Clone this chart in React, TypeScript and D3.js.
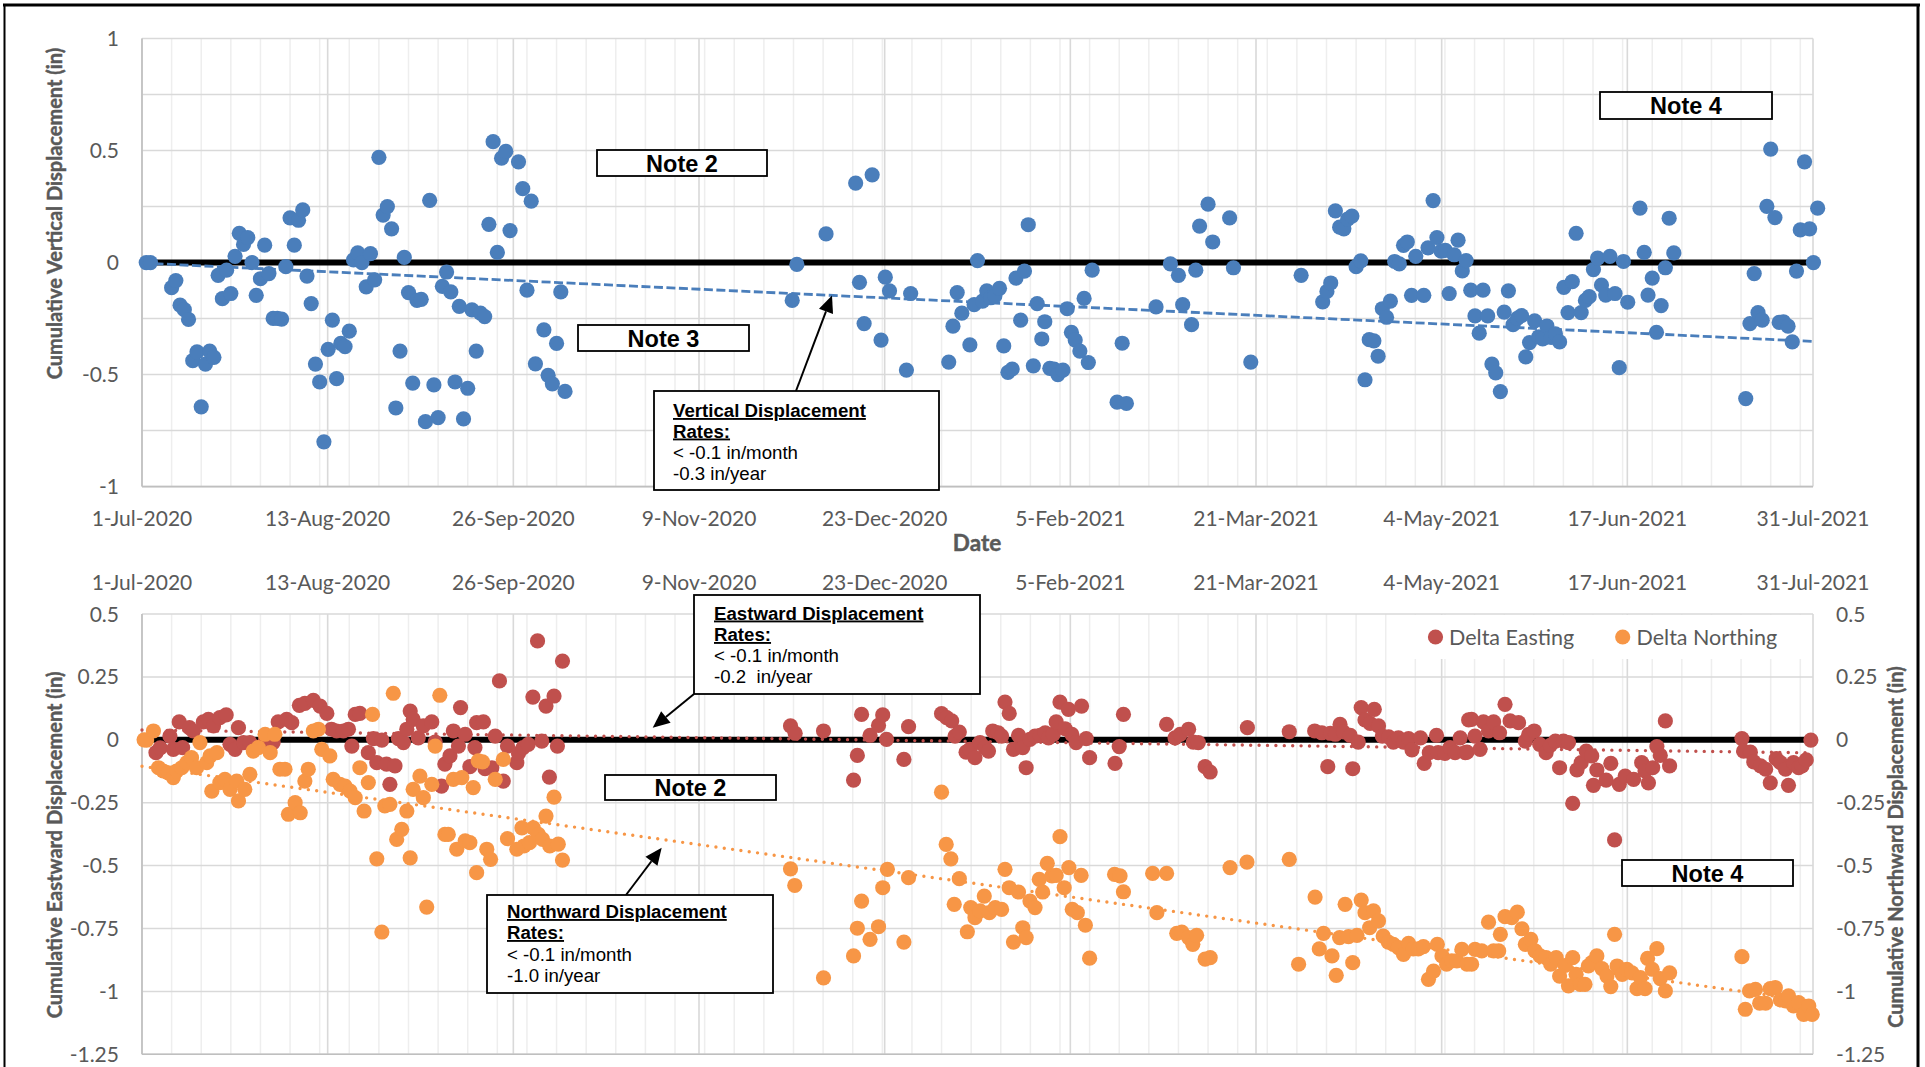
import React from 'react';
import * as d3 from 'd3';

// ---------- axis definitions ----------
const AXIS_MAX_DAY = 395; // 1-Jul-2020 .. 31-Jul-2021
const xTickLabels = ['1-Jul-2020', '13-Aug-2020', '26-Sep-2020', '9-Nov-2020', '23-Dec-2020', '5-Feb-2021', '21-Mar-2021', '4-May-2021', '17-Jun-2021', '31-Jul-2021'];
const topYTicks = [1, 0.5, 0, -0.5, -1];
const topYTickLabels = ['1', '0.5', '0', '-0.5', '-1'];
const bottomYTicks = [0.5, 0.25, 0, -0.25, -0.5, -0.75, -1, -1.25];
const bottomYTickLabels = ['0.5', '0.25', '0', '-0.25', '-0.5', '-0.75', '-1', '-1.25'];

// ---------- data: [days since 1-Jul-2020, inches] ----------
const verticalSeries: [number, number][] = [
  [1, 0], [2, 0], [7, -0.112], [8, -0.08], [9, -0.19], [10, -0.21], [11, -0.254], [12, -0.438], [13, -0.398], [14, -0.644], [15, -0.453], [16, -0.395], [17, -0.423], [18, -0.057], [19, -0.161], [20, -0.034], [21, -0.138], [22, 0.028], [23, 0.131], [24, 0.081], [25, 0.112], [26, 0], [27, -0.146], [28, -0.072], [29, 0.078], [30, -0.049], [31, -0.249], [32, -0.249], [33, -0.252], [34, -0.018], [35, 0.2], [36, 0.078], [37, 0.189], [38, 0.235], [39, -0.06], [40, -0.183], [41, -0.453], [42, -0.533], [43, -0.8], [44, -0.387], [45, -0.257], [46, -0.518], [47, -0.361], [48, -0.375], [49, -0.306], [50, 0.012], [51, 0.043], [52, 0], [53, -0.108], [54, 0.04], [55, -0.077], [56, 0.47], [57, 0.212], [58, 0.25], [59, 0.151], [60, -0.649], [61, -0.395], [62, 0.023], [63, -0.134], [64, -0.538], [65, -0.169], [66, -0.164], [67, -0.71], [68, 0.278], [69, -0.546], [70, -0.692], [71, -0.106], [72, -0.042], [73, -0.131], [74, -0.533], [75, -0.195], [76, -0.698], [77, -0.561], [78, -0.211], [79, -0.395], [80, -0.226], [81, -0.241], [82, 0.171], [83, 0.54], [84, 0.046], [85, 0.466], [86, 0.497], [87, 0.143], [89, 0.45], [90, 0.33], [91, -0.123], [92, 0.274], [93, -0.452], [95, -0.3], [96, -0.503], [97, -0.541], [98, -0.361], [99, -0.131], [100, -0.575],
  [153.7, -0.169], [154.8, -0.008], [161.7, 0.128], [168.7, 0.355], [169.6, -0.088], [170.7, -0.272], [172.6, 0.392], [174.7, -0.346], [175.7, -0.065], [176.7, -0.126], [180.7, -0.48], [181.7, -0.138], [190.7, -0.444], [191.7, -0.284], [192.7, -0.134], [193.8, -0.226], [195.7, -0.367], [196.7, -0.188], [197.5, 0.009], [198.7, -0.172], [199.7, -0.126], [200.6, -0.157], [201.6, -0.149], [202.7, -0.115], [203.7, -0.372], [204.7, -0.49], [205.7, -0.475], [206.6, -0.069], [207.7, -0.257], [208.6, -0.038], [209.5, 0.169], [210.7, -0.461], [211.6, -0.183], [212.7, -0.341], [213.4, -0.264], [214.6, -0.472], [215.6, -0.475], [216.5, -0.5], [217.7, -0.48], [218.7, -0.206], [219.7, -0.311], [220.6, -0.346], [221.7, -0.395], [222.7, -0.16], [223.7, -0.446], [224.6, -0.034], [230.5, -0.623], [231.7, -0.36], [232.7, -0.629], [239.7, -0.198], [243.1, -0.006], [245, -0.057], [246, -0.188], [248.1, -0.277], [249.1, -0.034], [250, 0.163], [252, 0.261], [253.1, 0.092], [257.1, 0.2], [258, -0.023], [262.1, -0.444],
  [274, -0.057], [279.1, -0.175], [280.1, -0.129], [281, -0.091], [282.1, 0.231], [283.1, 0.158], [284.1, 0.151], [285, 0.194], [286, 0.208], [287, -0.018], [288.1, 0.008], [289.1, -0.523], [290.1, -0.344], [291.2, -0.349], [292.2, -0.418], [293.2, -0.206], [294.2, -0.244], [295.1, -0.172], [296.1, 0.005], [297.2, -0.006], [298.2, 0.077], [299.1, 0.092], [300.1, -0.146], [301.1, 0.028], [303, -0.146], [304, 0.066], [305.2, 0.277], [306.1, 0.112], [307.1, 0.051], [308.1, 0.055], [309, -0.138], [310.2, 0.035], [311.1, 0.1], [312.1, -0.037], [313, 0.009], [314.1, -0.123], [315.1, -0.238], [316.1, -0.315], [317, -0.123], [318.1, -0.238], [319.1, -0.453], [320, -0.492], [321.1, -0.576], [322, -0.221], [323, -0.126], [324.1, -0.277], [325.1, -0.249], [326.1, -0.237], [327.1, -0.421], [328, -0.357], [329.2, -0.26], [330.2, -0.331], [331.1, -0.341], [332.1, -0.283], [333.1, -0.334], [334.1, -0.318], [335.1, -0.354], [336.1, -0.111], [337.1, -0.223], [338.1, -0.085], [339, 0.131], [340.2, -0.223], [341.2, -0.169], [342.1, -0.152], [343.1, -0.031], [344.1, 0.02], [345, -0.1], [346, -0.145], [347, 0.028], [348.2, -0.138], [349.2, -0.469], [350.2, 0.005], [351.2, -0.177], [354.1, 0.243], [355.1, 0.046], [356, -0.145], [357, -0.069], [358, -0.311], [359.1, -0.192], [360.1, -0.023], [361, 0.198], [362.1, 0.043], [379.1, -0.607], [380.1, -0.272], [381.1, -0.049], [382, -0.223], [383, -0.257], [384.1, 0.251], [385, 0.507], [386, 0.201], [387, -0.267], [388, -0.264], [389.1, -0.284], [390.1, -0.354], [391.1, -0.038], [392, 0.146], [393, 0.45], [394.2, 0.151], [395.1, 0], [396.1, 0.243],
];

const eastingSeries: [number, number][] = [
  [3.3, -0.051], [4.3, -0.032], [6.6, 0.015], [7.4, -0.038], [8.8, 0.071], [9.6, -0.031], [11.2, 0.048], [12.1, 0.035], [14.5, 0.071], [15.7, 0.081], [16.9, 0.055], [18.4, 0.088], [19.9, 0.099], [20.8, -0.018], [22, -0.038], [22.8, 0.048], [24, -0.011], [25.5, -0.011], [26.7, -0.031], [29.1, -0.005], [31, -0.011], [32.2, 0.071], [34.2, 0.081], [35.4, 0.068], [37.2, 0.137], [38.5, 0.145], [40.5, 0.157], [42.1, 0.134], [43.7, 0.105], [44.8, 0.042], [46, 0.035], [47.6, 0.035], [48.8, 0.042], [49.6, -0.025], [50.4, 0.101], [51.5, 0.105], [53.5, -0.051], [54.7, 0.005], [55.5, -0.091], [56.7, -0.001], [57.8, -0.097], [58.6, -0.177], [59.8, -0.104], [60.6, 0.005], [61.8, -0.011], [62.6, 0.042], [63.4, 0.114], [64.1, 0.081], [65.3, 0.008], [66.5, 0.055], [68.5, 0.071], [69.3, -0.009], [70.8, -0.184], [71.6, -0.097], [72.8, -0.064], [73.6, 0.035], [74.8, -0.025], [75.3, 0.128], [76.4, 0.022], [77.5, -0.107], [78.7, -0.031], [79.1, 0.068],
  [80.7, 0.071], [81.1, -0.115], [82.7, -0.111], [83.5, 0.015], [84.5, 0.234], [85.4, -0.164], [86.4, -0.025], [88.6, -0.091], [89, -0.054], [90.1, -0.031], [91.3, -0.018], [92.4, 0.17], [93.5, 0.393], [94.5, -0.005], [95.5, 0.134], [96.3, -0.148], [97.4, 0.174], [98.2, -0.025], [99.4, 0.313], [153.3, 0.055], [154.4, 0.026],
  [161.1, 0.035], [168.2, -0.16], [169.1, -0.062], [170.1, 0.101], [172.1, 0.018], [174.1, 0.057], [175.1, 0.099], [176, 0.002], [180.1, -0.078], [181.2, 0.052], [189, 0.104], [190.2, 0.088], [191.4, 0.075], [192.2, 0.015], [193.2, 0.031], [194.8, -0.049], [195.7, -0.038], [196.9, -0.071], [198.1, -0.011], [199.3, -0.031], [200.1, -0.045], [201.1, 0.035], [202.4, 0.028], [203.2, 0.015], [204, 0.15], [205, 0.105], [206, -0.038], [207.2, 0.018], [208.2, -0.031], [209, -0.111], [209.9, 0.002], [211.1, 0.015], [212.3, 0.018], [213.5, 0.028], [214.3, 0.008], [215.4, 0.022], [216.1, 0.071], [217, 0.15], [218.2, 0.044], [219, 0.121], [219.8, 0.022], [220.8, -0.011], [222.1, 0.134], [223.2, 0.005], [224, -0.071], [230, -0.094], [231, -0.027], [232, 0.101],
  [242.2, 0.061], [244.2, 0.008], [245.4, 0.022], [247.4, 0.042], [248.5, -0.009], [249.7, -0.011], [251.3, -0.107], [252.5, -0.128], [261.3, 0.048], [271.2, 0.032], [277.2, 0.035], [278.9, 0.028], [280.3, -0.107], [280.9, 0.026], [282.1, 0.022], [283.2, 0.061], [284, 0.031], [285.6, 0.018], [286.2, -0.115], [287.5, -0.009], [288.2, 0.128], [289.1, 0.079], [290.3, 0.065], [291.3, 0.121], [292.3, 0.055], [293.2, 0.015], [294.7, 0.012], [295.8, -0.009], [297, 0.008], [298.2, -0.009], [299.4, 0.005], [300.2, -0.04], [302.2, 0.008], [303.1, -0.094], [304.3, -0.051], [306, 0.018], [306.4, -0.051], [308, -0.054], [309.2, -0.031], [310.4, -0.051], [311.6, 0.008], [312.8, -0.051], [313.6, 0.079],
  [313.2, -0.049], [314.3, 0.081], [315.1, 0.015], [316.3, -0.038], [317.1, 0.071], [318.3, 0.035], [319.5, 0.071], [320.9, 0.028], [322.2, 0.141], [323.4, 0.075], [325.4, 0.068], [327, -0.005], [327.8, 0.022], [329.1, 0.035], [330.4, -0.018], [331.9, -0.051], [332.9, -0.022], [334.1, -0.005], [335.1, -0.111], [336, -0.005], [337.2, -0.011], [338.2, -0.253], [339.2, -0.12], [340.2, -0.091], [341.4, -0.045], [342.7, -0.064], [343.1, -0.181], [343.9, -0.12], [346.1, -0.16], [347.2, -0.094], [348.1, -0.398], [349.2, -0.177], [350.6, -0.144], [352.6, -0.157], [354.5, -0.091], [355.3, -0.124], [356.1, -0.171], [357.1, -0.111], [358.1, -0.027], [358.9, -0.062], [360.1, 0.075], [361.1, -0.104],
  [378.2, 0.005], [378.6, -0.045], [380.2, -0.049], [381, -0.088], [382.6, -0.104], [383.8, -0.117], [384.9, -0.171], [386.3, -0.075], [387.3, -0.091], [388.5, -0.117], [389.2, -0.181], [390.4, -0.091], [391.6, -0.111], [392.4, -0.104], [393.4, -0.08], [394.5, -0.001],
];

const northingSeries: [number, number][] = [
  [0.5, 0], [1.1, -0.001], [2.7, 0.035], [3.9, -0.111], [5, -0.124], [6.2, -0.131], [7.4, -0.15], [8.2, -0.124], [9.4, -0.111], [10.6, -0.091], [11.7, -0.071], [12.9, -0.111], [13.7, -0.011], [15.3, -0.091], [16.1, -0.064], [17.7, -0.051], [16.5, -0.204], [18.4, -0.17], [19.6, -0.157], [20.8, -0.197], [22.4, -0.164], [22.8, -0.243], [24.3, -0.197], [25.5, -0.137], [26.3, -0.045], [27.5, -0.031], [29.1, 0.022], [30.3, -0.051], [31.4, 0.022], [32.6, -0.117], [33.8, -0.117], [34.6, -0.296], [36.2, -0.25], [37.4, -0.29], [38.5, -0.164], [39.3, -0.117], [40.5, 0.035], [41.7, 0.042], [42.5, -0.038], [44.4, -0.064], [45.2, -0.157], [46.8, -0.177], [48, -0.184], [49.2, -0.204], [50.4, -0.23], [51.5, -0.111], [52.5, -0.283], [53.5, -0.17], [54.5, 0.101], [55.5, -0.473], [56.7, -0.764], [57.4, -0.263], [58.6, -0.257], [59.4, 0.185], [60.2, -0.396], [61.4, -0.356], [62.6, -0.283], [63.4, -0.469], [64.1, -0.197], [65.7, -0.144], [66.5, -0.23], [67.3, -0.665], [68.5, -0.177], [69.3, -0.025], [70.4, 0.177], [71.6, -0.376], [72.4, -0.376], [73.6, -0.157], [74.4, -0.435], [75.6, -0.15], [76.4, -0.402], [77.5, -0.409], [78.3, -0.19], [79.1, -0.528], [79.5, -0.084],
  [80.5, -0.088], [81.5, -0.435], [82.4, -0.475], [83.5, -0.157], [85.4, -0.078], [86.4, -0.393], [88.6, -0.435], [89.8, -0.35], [90.3, -0.422], [91.6, -0.409], [92.5, -0.35], [93.7, -0.376], [94.7, -0.396], [95.5, -0.303], [96.4, -0.422], [97.4, -0.228], [98.4, -0.415], [99.4, -0.478], [153.3, -0.513], [154.3, -0.579],
  [161.1, -0.946], [168.2, -0.859], [169.1, -0.749], [170.1, -0.641], [172.1, -0.793], [174.1, -0.743], [175.1, -0.588], [176.2, -0.515], [180.1, -0.804], [181.2, -0.548], [189, -0.208], [190.1, -0.416], [191.2, -0.473], [192, -0.654], [193.2, -0.552], [195.1, -0.763], [195.9, -0.667], [196.9, -0.707], [198.1, -0.68], [199.1, -0.621], [200.3, -0.687], [201.7, -0.667], [203.2, -0.674], [204, -0.515], [205, -0.588], [206, -0.804], [207.2, -0.605], [208.2, -0.747], [209, -0.786], [209.9, -0.641], [211.1, -0.667], [212.1, -0.555], [212.9, -0.605], [214, -0.491], [215.1, -0.541], [216.1, -0.539], [217, -0.385], [218, -0.588], [219.1, -0.508], [219.9, -0.674], [221.1, -0.687], [222, -0.539], [223, -0.737], [224, -0.868], [229.9, -0.535], [231.2, -0.541], [232, -0.604],
  [238.9, -0.531], [239.9, -0.687], [242.2, -0.531], [244.6, -0.769], [245.8, -0.764], [247.4, -0.786], [248.4, -0.813], [249.3, -0.777], [251.3, -0.872], [252.5, -0.866], [257.2, -0.508], [261.2, -0.486], [271.2, -0.475], [273.4, -0.892], [277.3, -0.625], [278.3, -0.831], [279.3, -0.769], [281.3, -0.859], [282.3, -0.936], [283.1, -0.786], [284.4, -0.654], [285.2, -0.782], [286.2, -0.886], [287.2, -0.777], [288.2, -0.637], [289.1, -0.687], [290.2, -0.747], [291.1, -0.68], [292.3, -0.72], [293.4, -0.78], [294.6, -0.804], [295.8, -0.813], [297, -0.826], [298.2, -0.853], [299.4, -0.809], [300.5, -0.831], [301.7, -0.831], [302.9, -0.822], [304.1, -0.952], [305.3, -0.919], [306.2, -0.813], [307.3, -0.859], [308.4, -0.892], [309.6, -0.879], [310.8, -0.879], [312, -0.833], [313.2, -0.892],
  [314.3, -0.892], [315.1, -0.833], [316.7, -0.839], [318.3, -0.725], [319.5, -0.839], [320.7, -0.839], [321.1, -0.773], [322.2, -0.703], [323.8, -0.707], [325.1, -0.685], [326.2, -0.751], [327, -0.813], [328.3, -0.793], [329.3, -0.839], [330.5, -0.859], [331.9, -0.866], [333, -0.892], [334.3, -0.866], [335.1, -0.939], [336.4, -0.897], [337.2, -0.978], [338.2, -0.866], [339, -0.932], [340, -0.972], [341.1, -0.972], [341.9, -0.899], [342.7, -0.886], [343.9, -0.859], [345.1, -0.909], [346.3, -0.939], [347.2, -0.981], [348.1, -0.773], [348.7, -0.899], [349.9, -0.932], [351, -0.912], [352.2, -0.926], [353.4, -0.989], [354.2, -0.945], [355.3, -0.989], [355.9, -0.869], [357, -0.912], [358.1, -0.83], [358.9, -0.949], [360.1, -0.998], [361.1, -0.926],
  [378.2, -0.862], [379, -1.071], [380, -0.998], [381.4, -0.992], [382.4, -1.047], [383.8, -1.047], [384.9, -0.989], [386.1, -0.985], [387.3, -1.034], [388.5, -1.038], [389.2, -1.018], [390.4, -1.058], [391.6, -1.045], [392.8, -1.091], [394, -1.058], [394.8, -1.091],
];

// linear trendlines (end points)
const verticalTrend: [number, number][] = [[0, -0.002], [395, -0.352]];
const eastingTrend: [number, number][] = [[0, 0.039], [395, -0.052]];
const northingTrend: [number, number][] = [[0, -0.105], [395, -1.04]];

const legendLabels = ['Delta Easting', 'Delta Northing'];

// ---------- styling ----------
const BLUE = '#4A7EBB';
const RED = '#C0504D';
const ORANGE = '#F79646';
const GRAY_TEXT = '#595959';
const GRID_MAJOR = '#d9d9d9';
const GRID_MINOR = '#eeeeee';
const TICK_FONT = 'Lato, "Open Sans", sans-serif';
const NOTE_FONT = '"Liberation Sans", Arial, sans-serif';
const R = 7.6;

const X0 = 142;
const X1 = 1813;

const x = d3.scaleLinear().domain([0, AXIS_MAX_DAY]).range([X0, X1]);
const yTop = d3.scaleLinear().domain([-1, 1]).range([486.6, 38.6]);
const yBot = d3.scaleLinear().domain([-1.25, 0.5]).range([1054.3, 614]);

const majorDays = xTickLabels.map((_, i) => (i * AXIS_MAX_DAY) / (xTickLabels.length - 1));
const minorDays = d3.range(7, AXIS_MAX_DAY, 7);

function Grid({ y, yMin, yMax }: { y: d3.ScaleLinear<number, number>; yMin: number; yMax: number }) {
  const hVals = d3.range(0, Math.round((yMax - yMin) / 0.25) + 1).map((i) => yMin + i * 0.25);
  const [yb, yt] = [y(yMin), y(yMax)];
  return (
    <g>
      {minorDays.map((d) => (
        <line key={'mn' + d} x1={x(d)} x2={x(d)} y1={yt} y2={yb} stroke={GRID_MINOR} strokeWidth={1.5} />
      ))}
      {majorDays.map((d, i) => (
        <line key={'mj' + i} x1={x(d)} x2={x(d)} y1={yt} y2={yb} stroke={GRID_MAJOR} strokeWidth={1.6} />
      ))}
      {hVals.map((v) => (
        <line key={'h' + v} x1={X0} x2={X1} y1={y(v)} y2={y(v)} stroke={GRID_MAJOR} strokeWidth={1.5} />
      ))}
      <line x1={X0} x2={X0} y1={yt} y2={yb} stroke="#bfbfbf" strokeWidth={1.6} />
      <line x1={X0} x2={X1} y1={yb} y2={yb} stroke="#bfbfbf" strokeWidth={1.6} />
    </g>
  );
}

function NoteBox({ x0, y0, w, h, label }: { x0: number; y0: number; w: number; h: number; label: string }) {
  return (
    <g>
      <rect x={x0} y={y0} width={w} height={h} fill="#fff" stroke="#000" strokeWidth={1.8} />
      <text x={x0 + w / 2} y={y0 + h / 2 + 8.5} textAnchor="middle" fontFamily={NOTE_FONT} fontWeight="bold" fontSize={23.5} fill="#000">
        {label}
      </text>
    </g>
  );
}

function RatesBox({ x0, y0, w, h, tx, baselines, lines }: { x0: number; y0: number; w: number; h: number; tx: number; baselines: number[]; lines: string[] }) {
  return (
    <g>
      <rect x={x0} y={y0} width={w} height={h} fill="#fff" stroke="#000" strokeWidth={1.8} />
      {lines.map((l, i) => (
        <text
          key={i}
          x={tx}
          y={baselines[i]}
          fontFamily={NOTE_FONT}
          fontSize={18.67}
          fontWeight={i < 2 ? 'bold' : 'normal'}
          style={{ textDecoration: i < 2 ? 'underline' : 'none', whiteSpace: 'pre' }}
          fill="#000"
        >
          {l}
        </text>
      ))}
    </g>
  );
}

function Arrow({ from, to }: { from: [number, number]; to: [number, number] }) {
  const dx = to[0] - from[0];
  const dy = to[1] - from[1];
  const len = Math.hypot(dx, dy);
  const ux = dx / len;
  const uy = dy / len;
  const hl = 17;
  const hw = 7.5;
  const bx = to[0] - ux * hl;
  const by = to[1] - uy * hl;
  const p1 = [bx - uy * hw, by + ux * hw];
  const p2 = [bx + uy * hw, by - ux * hw];
  return (
    <g>
      <line x1={from[0]} y1={from[1]} x2={bx} y2={by} stroke="#000" strokeWidth={2} />
      <polygon points={`${to[0]},${to[1]} ${p1[0]},${p1[1]} ${p2[0]},${p2[1]}`} fill="#000" />
    </g>
  );
}

function Dots({ data, y, color }: { data: [number, number][]; y: d3.ScaleLinear<number, number>; color: string }) {
  return (
    <g>
      {data.map((d, i) => (
        <circle key={i} cx={x(d[0])} cy={y(d[1])} r={R} fill={color} />
      ))}
    </g>
  );
}

function Trend({ data, y, color, dash, width }: { data: [number, number][]; y: d3.ScaleLinear<number, number>; color: string; dash: string; width: number }) {
  const line = d3
    .line<[number, number]>()
    .x((d) => x(d[0]))
    .y((d) => y(d[1]));
  return <path d={line(data) || ''} fill="none" stroke={color} strokeWidth={width} strokeDasharray={dash} strokeLinecap={dash.startsWith('0') ? 'round' : 'butt'} />;
}

function AxisTitle({ cx, cy, text, size }: { cx: number; cy: number; text: string; size: number }) {
  return (
    <text
      transform={`translate(${cx},${cy}) rotate(-90)`}
      textAnchor="middle"
      dominantBaseline="central"
      fontFamily={TICK_FONT}
      fontWeight="bold"
      fontSize={size}
      fill={GRAY_TEXT}
      stroke={GRAY_TEXT}
      strokeWidth={0.45}
    >
      {text}
    </text>
  );
}

export default function App() {
  const W = 1925;
  const H = 1067;
  return (
    <svg width={W} height={H} style={{ position: 'absolute', left: 0, top: 0, display: 'block', background: '#fff' }}>
      <rect x={0} y={0} width={W} height={H} fill="#fff" />

      {/* ---------------- TOP CHART ---------------- */}
      <Grid y={yTop} yMin={-1} yMax={1} />
      <line x1={X0} x2={X1} y1={yTop(0)} y2={yTop(0)} stroke="#000" strokeWidth={6} />
      <Trend data={verticalTrend} y={yTop} color={BLUE} dash="9 3.5" width={2.8} />
      <Dots data={verticalSeries} y={yTop} color={BLUE} />

      {topYTicks.map((v, i) => (
        <text key={'ty' + i} x={119} y={yTop(v) + 7.5} textAnchor="end" fontFamily={TICK_FONT} fontSize={21} fill={GRAY_TEXT}>
          {topYTickLabels[i]}
        </text>
      ))}
      {majorDays.map((d, i) => (
        <text key={'tx' + i} x={x(d)} y={526} textAnchor="middle" fontFamily={TICK_FONT} fontSize={21} fill={GRAY_TEXT}>
          {xTickLabels[i]}
        </text>
      ))}
      <text x={977} y={551} textAnchor="middle" fontFamily={TICK_FONT} fontWeight="bold" fontSize={22.5} fill={GRAY_TEXT} stroke={GRAY_TEXT} strokeWidth={0.45}>
        Date
      </text>
      <AxisTitle cx={54} cy={213.5} text="Cumulative Vertical Displacement (in)" size={20} />

      <NoteBox x0={597} y0={150} w={170} h={26} label="Note 2" />
      <NoteBox x0={578} y0={325} w={171} h={26} label="Note 3" />
      <NoteBox x0={1600} y0={92} w={172} h={27} label="Note 4" />
      <Arrow from={[796, 391]} to={[832, 295.5]} />
      <RatesBox x0={654} y0={391} w={285} h={99} tx={673} baselines={[417, 437.5, 458.5, 479.5]} lines={['Vertical Displacement', 'Rates:', '< -0.1 in/month', '-0.3 in/year']} />

      {/* ---------------- BOTTOM CHART ---------------- */}
      <Grid y={yBot} yMin={-1.25} yMax={0.5} />
      {/* legend background */}
      <rect x={1405} y={615} width={404} height={44} fill="#fff" />
      <line x1={X0} x2={X1} y1={yBot(0)} y2={yBot(0)} stroke="#000" strokeWidth={6} />
      <Trend data={eastingTrend} y={yBot} color={RED} dash="0 8.4" width={3.4} />
      <Trend data={northingTrend} y={yBot} color={ORANGE} dash="0 8.4" width={3.4} />
      <Dots data={eastingSeries} y={yBot} color={RED} />
      <Dots data={northingSeries} y={yBot} color={ORANGE} />

      {bottomYTicks.map((v, i) => (
        <text key={'by' + i} x={119} y={yBot(v) + 7.5} textAnchor="end" fontFamily={TICK_FONT} fontSize={21} fill={GRAY_TEXT}>
          {bottomYTickLabels[i]}
        </text>
      ))}
      {bottomYTicks.map((v, i) => (
        <text key={'br' + i} x={1836} y={yBot(v) + 7.5} textAnchor="start" fontFamily={TICK_FONT} fontSize={21} fill={GRAY_TEXT}>
          {bottomYTickLabels[i]}
        </text>
      ))}
      {majorDays.map((d, i) => (
        <text key={'bx' + i} x={x(d)} y={590} textAnchor="middle" fontFamily={TICK_FONT} fontSize={21} fill={GRAY_TEXT}>
          {xTickLabels[i]}
        </text>
      ))}
      <AxisTitle cx={54} cy={845} text="Cumulative Eastward Displacement (in)" size={20} />
      <AxisTitle cx={1895} cy={847} text="Cumulative Northward Displacement (in)" size={20} />

      {/* legend */}
      <circle cx={1435.5} cy={637} r={R} fill={RED} />
      <text x={1449} y={645} fontFamily={TICK_FONT} fontSize={21.5} fill={GRAY_TEXT}>
        {legendLabels[0]}
      </text>
      <circle cx={1622.7} cy={637} r={R} fill={ORANGE} />
      <text x={1636.5} y={645} fontFamily={TICK_FONT} fontSize={21.5} fill={GRAY_TEXT}>
        {legendLabels[1]}
      </text>

      <NoteBox x0={605} y0={775} w={171} h={25} label="Note 2" />
      <NoteBox x0={1622} y0={860} w={171} h={26} label="Note 4" />
      <Arrow from={[694, 694]} to={[652.7, 727.7]} />
      <RatesBox x0={694} y0={595} w={286} h={99} tx={714} baselines={[619.5, 641, 662, 683]} lines={['Eastward Displacement', 'Rates:', '< -0.1 in/month', '-0.2  in/year']} />
      <Arrow from={[626, 895]} to={[661.7, 847.7]} />
      <RatesBox x0={487} y0={895} w={286} h={98} tx={507} baselines={[918, 939, 961, 982]} lines={['Northward Displacement', 'Rates:', '< -0.1 in/month', '-1.0 in/year']} />

      {/* outer frame */}
      <line x1={3} x2={1920} y1={5} y2={5} stroke="#000" strokeWidth={3} />
      <line x1={4.5} x2={4.5} y1={5} y2={H} stroke="#000" strokeWidth={2} />
      <line x1={1918} x2={1918} y1={5} y2={H} stroke="#000" strokeWidth={3} />
    </svg>
  );
}
